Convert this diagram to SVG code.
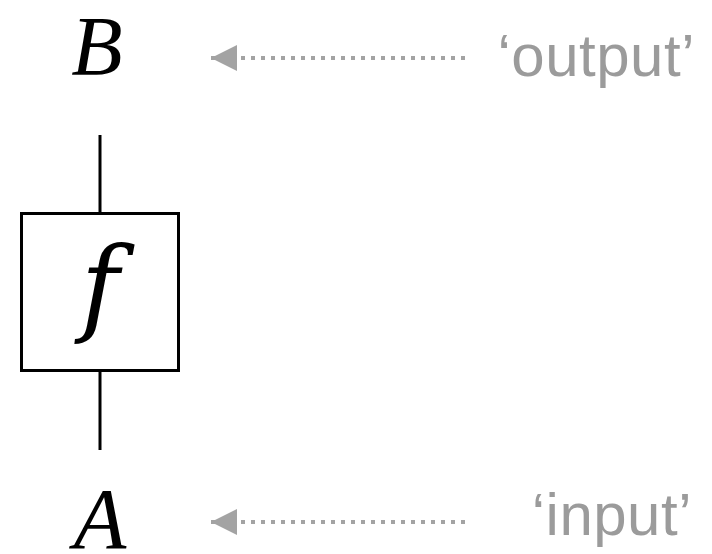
<svg xmlns="http://www.w3.org/2000/svg" width="712" height="554" viewBox="0 0 712 554">
  <style>
    .math { font-family: "Liberation Serif", "DejaVu Serif", serif; font-style: italic; fill: #000; }
    .note { font-family: "Liberation Sans", Arial, sans-serif; fill: #9b9b9b; font-size: 60px; letter-spacing: 0.5px; }
    .wire { stroke: #000; stroke-width: 3; fill: none; }
    .pointer { stroke: #a3a3a3; stroke-width: 4; stroke-dasharray: 4 6; fill: none; }
  </style>
  <defs>
    <marker id="head" markerUnits="userSpaceOnUse" markerWidth="28" markerHeight="26" refX="26" refY="13" orient="auto">
      <path d="M0,0 L26,13 L0,26 Z" fill="#a3a3a3"/>
    </marker>
  </defs>
  <rect width="712" height="554" fill="#fff"/>

  <g id="connectors">
    <line class="wire" x1="100" y1="135" x2="100" y2="212"/>
    <line class="wire" x1="100" y1="372" x2="100" y2="450"/>
    <line class="pointer" x1="465" y1="58" x2="211" y2="58" marker-end="url(#head)"/>
    <line class="pointer" x1="465" y1="522" x2="211" y2="522" marker-end="url(#head)"/>
  </g>

  <g id="node-f">
    <rect x="21.5" y="213.5" width="157" height="157" fill="#fff" stroke="#000" stroke-width="3"/>
    <text x="100" y="322" font-family="'DejaVu Serif', 'Liberation Serif', serif" font-style="italic" font-size="104" text-anchor="middle">f</text>
  </g>

  <g id="node-B">
    <text class="math" x="97" y="75" font-size="84" text-anchor="middle">B</text>
  </g>

  <g id="node-A">
    <text class="math" x="100" y="548" font-size="86" text-anchor="middle">A</text>
  </g>

  <g id="label-output">
    <text class="note" x="695" y="76" text-anchor="end">‘output’</text>
  </g>

  <g id="label-input">
    <text class="note" x="692" y="535" text-anchor="end">‘input’</text>
  </g>
</svg>
